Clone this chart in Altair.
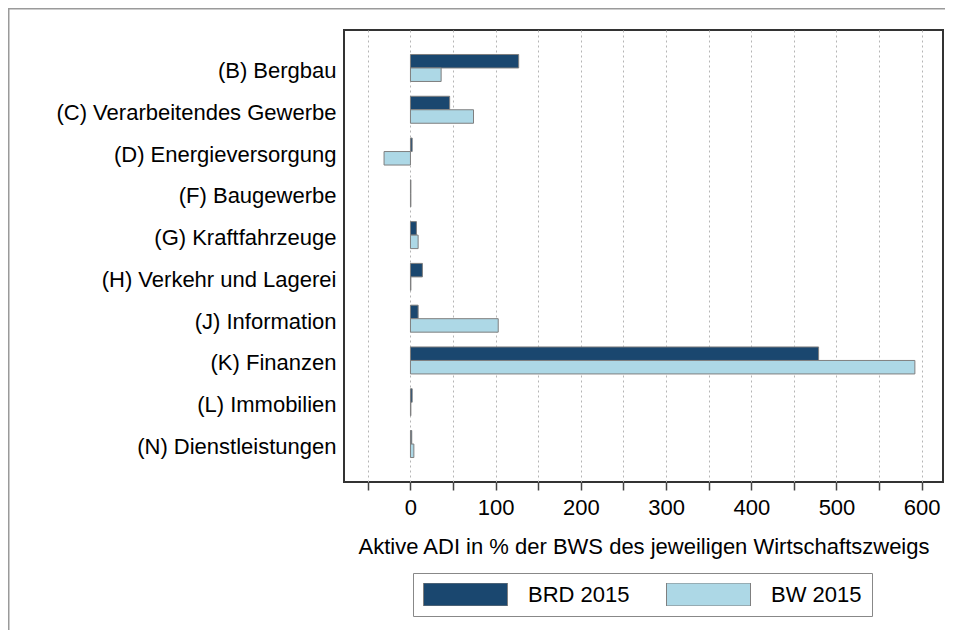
import altair as alt
import pandas as pd

categories = [
    "(B) Bergbau",
    "(C) Verarbeitendes Gewerbe",
    "(D) Energieversorgung",
    "(F) Baugewerbe",
    "(G) Kraftfahrzeuge",
    "(H) Verkehr und Lagerei",
    "(J) Information",
    "(K) Finanzen",
    "(L) Immobilien",
    "(N) Dienstleistungen",
]
brd_2015 = [127, 46, 2, 0.5, 7, 14, 9, 479, 2, 1.5]
bw_2015 = [36, 74, -31, 0.5, 9, 0.5, 103, 592, 0.5, 4]
series = ["BRD 2015", "BW 2015"]
colors = ["#1a476f", "#add8e6"]
tick_values = [-50, 0, 50, 100, 150, 200, 250, 300, 350, 400, 450, 500, 550, 600]

rows = []
for c, a, b in zip(categories, brd_2015, bw_2015):
    rows.append({"Zweig": c, "Reihe": series[0], "Wert": a})
    rows.append({"Zweig": c, "Reihe": series[1], "Wert": b})
df = pd.DataFrame(rows)

FONT = "Liberation Sans"
FS = 22

bars = alt.Chart(df).mark_bar(stroke="#7f7f7f", strokeWidth=1, opacity=1).encode(
    y=alt.Y("Zweig:N", sort=categories,
            scale=alt.Scale(paddingInner=0.354, paddingOuter=0.586),
            axis=alt.Axis(title=None, ticks=False, domain=False, grid=False,
                          labelFontSize=FS, labelColor="#000", labelFont=FONT,
                          labelPadding=8, labelLimit=400, labelOffset=3)),
    yOffset=alt.YOffset("Reihe:N", sort=series,
                        scale=alt.Scale(domain=series, paddingInner=0, paddingOuter=0)),
    x=alt.X("Wert:Q",
            scale=alt.Scale(domain=[-78, 625], nice=False, zero=False),
            axis=alt.Axis(title="Aktive ADI in % der BWS des jeweiligen Wirtschaftszweigs",
                          values=tick_values,
                          labelExpr="datum.value % 100 == 0 ? datum.label : ''",
                          labelFontSize=FS, labelColor="#000", labelFont=FONT,
                          titleFontSize=FS, titleFontWeight="normal", titleColor="#000",
                          titleFont=FONT, titlePadding=18,
                          tickSize=8, tickWidth=1.5, tickColor="#444",
                          labelPadding=7, domain=False,
                          grid=True, gridColor="#b5b5b5", gridDash=[2, 3], gridWidth=1)),
    color=alt.Color("Reihe:N", sort=series,
                    scale=alt.Scale(domain=series, range=colors),
                    legend=alt.Legend(title=None, orient="none", legendX=69, legendY=543,
                                      direction="horizontal", columns=2,
                                      symbolType="M-1,-0.274H1V0.274H-1Z",
                                      symbolSize=7056, symbolStrokeColor="#7f7f7f",
                                      symbolStrokeWidth=1, symbolOpacity=1,
                                      clipHeight=23, labelFontSize=FS, labelFont=FONT,
                                      labelColor="#000", labelOffset=20,
                                      columnPadding=36, padding=10,
                                      strokeColor="#888", fillColor="#fff")),
)

frame_top = alt.Chart(alt.Data(values=[{}])).mark_rule(
    stroke="#9a9a9a", strokeWidth=1.5, clip=False
).encode(x=alt.value(-337), x2=alt.value(700), y=alt.value(-21.25))

frame_left = alt.Chart(alt.Data(values=[{}])).mark_rule(
    stroke="#9a9a9a", strokeWidth=1.5, clip=False
).encode(x=alt.value(-335.25), y=alt.value(-22), y2=alt.value(700))

chart = alt.layer(frame_top, frame_left, bars).properties(
    width=599, height=452,
    background="#fff",
    autosize=alt.AutoSizeParams(type="none"),
    padding={"left": 336, "top": 22, "right": 2, "bottom": 148},
).configure_view(stroke="#333", strokeWidth=2)

chart.save("out.html", embed_options={"renderer": "svg", "actions": False})
